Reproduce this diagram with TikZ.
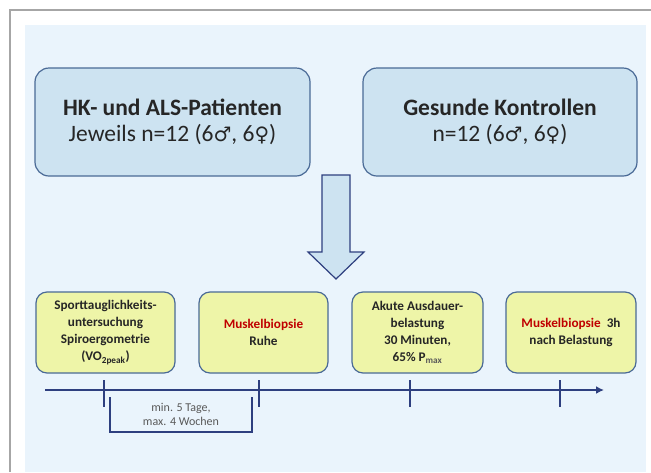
\documentclass[tikz,border=0pt]{standalone}
\usepackage{fontspec}
\setmainfont{Carlito}
\newfontfamily\symfont{DejaVu Sans}
\usetikzlibrary{arrows.meta}

\definecolor{panelblue}{HTML}{EAF4FC}
\definecolor{boxblue}{HTML}{CDE3F1}
\definecolor{boxline}{HTML}{4A6A96}
\definecolor{boxyellow}{HTML}{EEF5A8}
\definecolor{navy}{HTML}{2E3F7F}
\definecolor{biopsyred}{HTML}{C00000}
\definecolor{framegray}{HTML}{A6A6A6}
\definecolor{notegray}{HTML}{595959}

\newcommand{\sexm}{{\symfont\scalebox{0.85}{\char"2642}}}
\newcommand{\sexf}{{\symfont\scalebox{0.85}{\char"2640}}}

\begin{document}
\begin{tikzpicture}[x=1pt,y=-1pt,
  group/.style={draw=boxline,line width=1.2pt,fill=boxblue,rounded corners=14pt,minimum height=108pt,align=center,inner sep=0pt,text=black!85,font=\fontsize{23.5}{26}\selectfont},
  stage/.style={draw=boxline,line width=1.2pt,fill=boxyellow,rounded corners=11pt,minimum height=81pt,align=center,inner sep=0pt,text=black!85,font=\fontsize{13.2}{17}\selectfont\bfseries},
  timeline/.style={navy,line width=1.6pt}]
  \useasboundingbox (0,0) rectangle (651,472);

  %background
  \fill[white] (0,0) rectangle (651,472);
  \fill[panelblue] (25,25) rectangle (646,472);
  \draw[framegray,line width=1.5pt] (10,472) |- (651,10);

  %groups
  \node[group,minimum width=275pt] (hk) at (172.5,122) {\textbf{HK- und ALS-Patienten}\\Jeweils n=12 (6\sexm, 6\sexf)};
  \node[group,minimum width=274pt] (gk) at (500,122) {\textbf{Gesunde Kontrollen}\\n=12 (6\sexm, 6\sexf)};

  %arrow
  \draw[fill=boxblue,draw=navy,line width=1.2pt] (322,175) -- (350,175) -- (350,252) -- (364,252) -- (336,279) -- (308,252) -- (322,252) -- cycle;

  %stages
  \node[stage,minimum width=139pt] (sport) at (105.5,332.5) {Sporttauglichkeits-\\untersuchung\\Spiroergometrie\\(VO\textsubscript{2peak})};
  \node[stage,minimum width=129pt] (ruhe) at (263.5,332.5) {\textcolor{biopsyred}{Muskelbiopsie}\\Ruhe};
  \node[stage,minimum width=131pt] (ausdauer) at (417.5,332.5) {Akute Ausdauer-\\belastung\\30 Minuten,\\65\% P\textsubscript{\color{notegray}max}};
  \node[stage,minimum width=130pt] (nach) at (571,332.5) {\textcolor{biopsyred}{Muskelbiopsie}\ \ 3h\\nach Belastung};

  %timeline
  \coordinate (tl-start) at (45,390);
  \coordinate (tl-end) at (604,390);
  \draw[timeline,-{Latex[length=8pt,width=8pt]}] (tl-start) -- (tl-end);
  \foreach \x in {104,259,410,560}
    \draw[timeline] (\x,380) -- (\x,407);

  %pause
  \draw[navy,line width=1.3pt] (110,397) |- (252,432) -- (252,397);
  \node[text=notegray,align=center,font=\fontsize{12}{14}\selectfont] (pause) at (181,414) {min. 5 Tage,\\max. 4 Wochen};
\end{tikzpicture}
\end{document}
